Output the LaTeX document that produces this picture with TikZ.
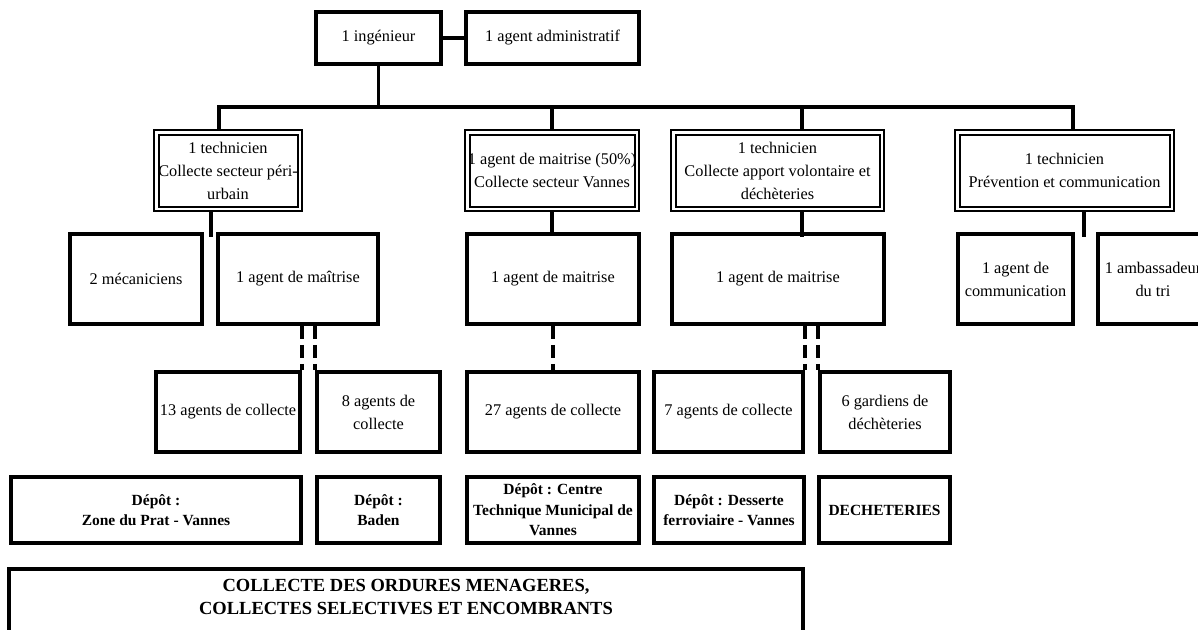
\documentclass[tikz,border=0pt]{standalone}
\usepackage{fontspec}
\setmainfont{Liberation Serif}
\tikzset{
  txt/.style={font=\fontsize{16.3}{23}\selectfont, align=center, inner sep=0pt},
  box/.style={txt, draw, line width=3.6pt},
  dbox/.style={txt, draw, line width=1.5pt,
    path picture={\draw[line width=2pt]
      ([xshift=4.5pt,yshift=-4.5pt]path picture bounding box.north west) rectangle
      ([xshift=-4.5pt,yshift=4.5pt]path picture bounding box.south east);}},
  depbox/.style={box, font=\bfseries\fontsize{15.5}{20.5}\selectfont},
  conn/.style={line width=3.6pt},
  dashconn/.style={line width=3.6pt, dash pattern=on 13pt off 6pt},
}
\begin{document}
\begin{tikzpicture}[x=1pt,y=-1pt]
\useasboundingbox (0,0) rectangle (1198,629);
\fill[white] (0,0) rectangle (1198,629);
\clip (0,0) rectangle (1198,629);

% top row
\node[box, minimum width=125pt, minimum height=52pt] (ing) at (378.5,38) {1 ingénieur};
\node[box, minimum width=173pt, minimum height=52pt] (adm) at (552.5,38) {1 agent administratif};

% level 2
\node[dbox, minimum width=148pt, minimum height=81pt] (t1) at (228,170.5) {1 technicien\\Collecte secteur péri-\\urbain};
\node[dbox, minimum width=174pt, minimum height=81pt] (t2) at (552,170.5) {1 agent de maitrise (50\%)\\Collecte secteur Vannes};
\node[dbox, minimum width=213pt, minimum height=81pt] (t3) at (777.5,170.5) {1 technicien\\Collecte apport volontaire et\\déchèteries};
\node[dbox, minimum width=219pt, minimum height=81pt] (t4) at (1064.5,170.5) {1 technicien\\Prévention et communication};

% level 3
\node[box, minimum width=132pt, minimum height=90pt] (mec) at (136,279) {2 mécaniciens};
\node[box, minimum width=160pt, minimum height=90pt] (am1) at (298,279) {1 agent de maîtrise};
\node[box, minimum width=172pt, minimum height=90pt] (am2) at (553,279) {1 agent de maitrise};
\node[box, minimum width=212pt, minimum height=90pt] (am3) at (778,279) {1 agent de maitrise};
\node[box, minimum width=115pt, minimum height=90pt] (com) at (1015.5,279) {1 agent de\\communication};
\node[box, minimum width=110pt, minimum height=90pt] (amb) at (1153,279) {1 ambassadeur\\du tri};

% level 4
\node[box, minimum width=144pt, minimum height=80pt] (a13) at (228,412) {13 agents de collecte};
\node[box, minimum width=123pt, minimum height=80pt] (a8) at (378.5,412) {8 agents de\\collecte};
\node[box, minimum width=172pt, minimum height=80pt] (a27) at (553,412) {27 agents de collecte};
\node[box, minimum width=149pt, minimum height=80pt] (a7) at (728.5,412) {7 agents de collecte};
\node[box, minimum width=130pt, minimum height=80pt] (g6) at (885,412) {6 gardiens de\\déchèteries};

% depots
\node[depbox, minimum width=290pt, minimum height=66pt] (d1) at (156,510) {Dépôt :\\Zone du Prat - Vannes};
\node[depbox, minimum width=123pt, minimum height=66pt] (d2) at (378.5,510) {Dépôt :\\Baden};
\node[depbox, minimum width=172pt, minimum height=66pt] (d3) at (553,510) {Dépôt : Centre\\Technique Municipal de\\Vannes};
\node[depbox, minimum width=150pt, minimum height=66pt] (d4) at (729,510) {Dépôt : Desserte\\ferroviaire - Vannes};
\node[depbox, minimum width=131pt, minimum height=66pt] (d5) at (884.5,510) {DECHETERIES};

% bottom
\node[draw, line width=3.6pt, minimum width=794pt, minimum height=83pt, anchor=north] (col) at (406,567) {};
\node[font=\bfseries\fontsize{18.5}{23}\selectfont, align=center, inner sep=0pt] (coltxt) at (406,597) {COLLECTE DES ORDURES MENAGERES,\\COLLECTES SELECTIVES ET ENCOMBRANTS};

% connectors
\draw[conn] (ing) -- (adm);
\coordinate (bL) at (219,107);
\coordinate (bR) at (1073,107);
\draw[conn] (ing.south) -- (ing.south |- bL);
\draw[conn] ([xshift=-1.8pt]bL) -- ([xshift=1.8pt]bR);
\draw[conn] (bL) -- (bL |- t1.north);
\draw[conn] (t2.north |- bL) -- (t2.north);
\coordinate (b3) at (802,107);
\draw[conn] (b3) -- (b3 |- t3.north);
\draw[conn] (bR) -- (bR |- t4.north);

\coordinate (k1) at (211,237);
\draw[conn] (t1.south -| k1) -- (k1);
\draw[conn] (t2.south) -- (t2.south |- am2.north);
\coordinate (k3) at (802,237);
\draw[conn] (t3.south -| k3) -- (k3);
\coordinate (k4) at (1084,237);
\draw[conn] (t4.south -| k4) -- (k4);

\draw[dashconn] (am1.south -| a13.east) -- (a13.north east);
\draw[dashconn] (am1.south -| a8.west) -- (a8.north west);
\draw[dashconn] (am2.south) -- (am2.south |- a27.north);
\draw[dashconn] (am3.south -| a7.east) -- (a7.north east);
\draw[dashconn] (am3.south -| g6.west) -- (g6.north west);
\end{tikzpicture}
\end{document}
